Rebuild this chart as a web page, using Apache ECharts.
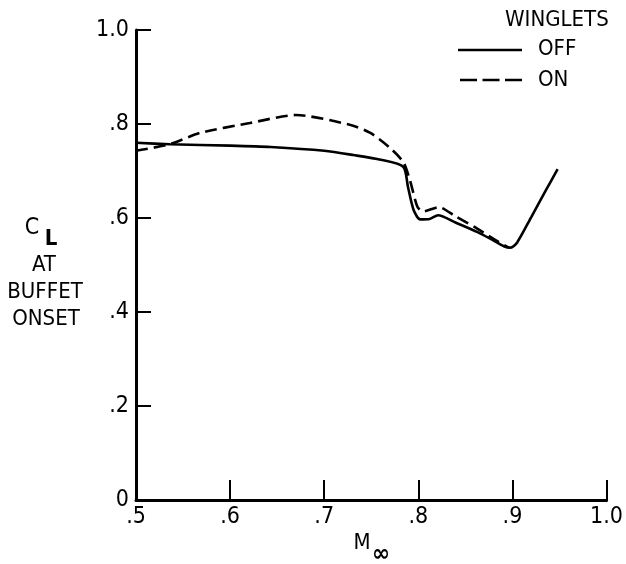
<!DOCTYPE html>
<html>
<head>
<meta charset="utf-8">
<script src="https://cdn.jsdelivr.net/npm/echarts@6/dist/echarts.min.js"></script>
<style>
html,body{margin:0;padding:0;background:#fff;}
#c{width:626px;height:564px;}
</style>
</head>
<body>
<div id="c"></div>
<script>
// Data
var machOff = [0.50, 0.536, 0.60, 0.643, 0.70, 0.731, 0.760, 0.784, 0.789, 0.795, 0.802, 0.812, 0.821, 0.840, 0.863, 0.880, 0.893, 0.898, 0.905, 0.920, 0.935, 0.948];
var clOff   = [0.760, 0.757, 0.754, 0.751, 0.743, 0.734, 0.724, 0.709, 0.666, 0.617, 0.597, 0.598, 0.606, 0.590, 0.570, 0.552, 0.538, 0.537, 0.548, 0.602, 0.657, 0.704];
var machOn  = [0.50, 0.536, 0.568, 0.621, 0.670, 0.728, 0.749, 0.770, 0.784, 0.791, 0.799, 0.805, 0.822, 0.839, 0.863, 0.882, 0.896];
var clOn    = [0.743, 0.757, 0.781, 0.802, 0.819, 0.798, 0.781, 0.749, 0.719, 0.681, 0.624, 0.614, 0.623, 0.604, 0.577, 0.553, 0.537];
var xTicks = ['.5', '.6', '.7', '.8', '.9', '1.0'];
var yTicks = ['0', '.2', '.4', '.6', '.8', '1.0'];
var seriesNames = ['OFF', 'ON'];

function pairs(xs, ys){ return xs.map(function(x,i){ return [x, ys[i]]; }); }

var FONT = "'DejaVu Sans Condensed','DejaVu Sans',sans-serif";
var chart = echarts.init(document.getElementById('c'));
chart.setOption({
  backgroundColor: '#ffffff',
  animation: false,
  grid: {left: 136, right: 19, top: 30, bottom: 64},
  xAxis: {
    type: 'value', min: 0.5, max: 1.0, interval: 0.1,
    axisLine: {show: true, onZero: false, lineStyle: {color: '#000', width: 3}},
    axisTick: {show: true, inside: true, length: 20, lineStyle: {color: '#000', width: 2}},
    splitLine: {show: false},
    axisLabel: {
      color: '#000', fontSize: 23, fontFamily: FONT, margin: 6,
      formatter: function(v){ return xTicks[Math.round((v - 0.5) * 10)]; }
    }
  },
  yAxis: {
    type: 'value', min: 0, max: 1.0, interval: 0.2,
    axisLine: {show: true, lineStyle: {color: '#000', width: 3}},
    axisTick: {show: true, inside: true, length: 15, lineStyle: {color: '#000', width: 2}},
    splitLine: {show: false},
    axisLabel: {
      color: '#000', fontSize: 23, fontFamily: FONT, margin: 7,
      formatter: function(v){ return yTicks[Math.round(v * 5)]; }
    }
  },
  graphic: [
    {type: 'text', left: 505, top: 9, style: {text: 'WINGLETS', fill: '#000', font: '22px ' + FONT}},
    {type: 'line', shape: {x1: 458, y1: 50, x2: 522, y2: 50}, style: {stroke: '#000', lineWidth: 2.5}},
    {type: 'text', left: 538, top: 38, style: {text: seriesNames[0], fill: '#000', font: '22px ' + FONT}},
    {type: 'line', shape: {x1: 460, y1: 80, x2: 522, y2: 80}, style: {stroke: '#000', lineWidth: 2.5, lineDash: [17, 5.5]}},
    {type: 'text', left: 538, top: 69, style: {text: seriesNames[1], fill: '#000', font: '22px ' + FONT}},
    {type: 'text', x: 32, y: 228, style: {text: 'C', fill: '#000', font: '23px ' + FONT, align: 'center', verticalAlign: 'middle'}},
    {type: 'text', x: 51, y: 239, style: {text: 'L', fill: '#000', font: 'bold 22px ' + FONT, align: 'center', verticalAlign: 'middle'}},
    {type: 'text', x: 44, y: 265, style: {text: 'AT', fill: '#000', font: '22px ' + FONT, align: 'center', verticalAlign: 'middle'}},
    {type: 'text', x: 45, y: 292, style: {text: 'BUFFET', fill: '#000', font: '22px ' + FONT, align: 'center', verticalAlign: 'middle'}},
    {type: 'text', x: 46, y: 319, style: {text: 'ONSET', fill: '#000', font: '22px ' + FONT, align: 'center', verticalAlign: 'middle'}},
    {type: 'text', x: 362, y: 543, style: {text: 'M', fill: '#000', font: '22px ' + FONT, align: 'center', verticalAlign: 'middle'}},
    {type: 'text', x: 381, y: 555, style: {text: '∞', fill: '#000', font: 'bold 24px ' + FONT, align: 'center', verticalAlign: 'middle'}}
  ],
  series: [
    {
      name: seriesNames[0], type: 'line', data: pairs(machOff, clOff),
      showSymbol: false, symbol: 'none', smooth: 0.25,
      lineStyle: {color: '#000', width: 2.6, type: 'solid'},
      itemStyle: {color: '#000'}
    },
    {
      name: seriesNames[1], type: 'line', data: pairs(machOn, clOn),
      showSymbol: false, symbol: 'none', smooth: 0.25,
      lineStyle: {color: '#000', width: 2.6, type: [12, 6]},
      itemStyle: {color: '#000'}
    }
  ]
});
</script>
</body>
</html>
